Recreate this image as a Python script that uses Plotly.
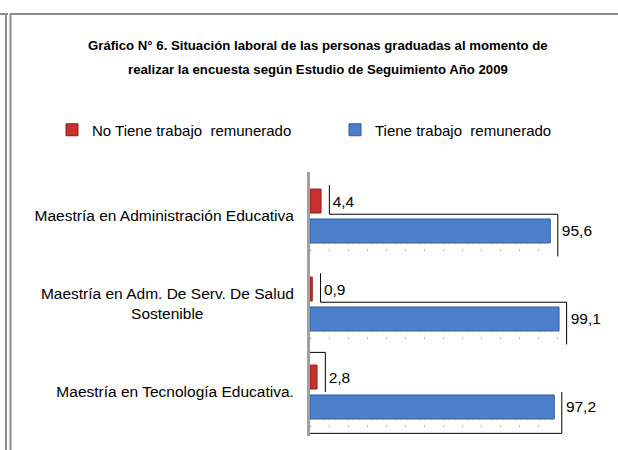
import plotly.graph_objects as go

categorias = [
    "Maestría en Administración Educativa",
    "Maestría en Adm. De Serv. De Salud<br>" + "\u00a0" * 21 + "Sostenible" + "\u00a0" * 21,
    "Maestría en Tecnología Educativa.",
]
no_tiene = [4.4, 0.9, 2.8]
tiene = [95.6, 99.1, 97.2]

fuente = "Liberation Sans, Arial, sans-serif"

# geometria del area de grafico (px)
L, R, T, B = 310, 19, 172, 14
W, H = 618 - L - R, 450 - T - B


def px_x(p):
    return (p - L) / W


def px_y(p):
    return (450 - B - p) / H


fig = go.Figure()
fig.add_bar(
    y=categorias, x=no_tiene, orientation="h",
    name="No Tiene trabajo  remunerado",
    marker=dict(color="#C8302C", line=dict(color="#8E1F1C", width=1)),
    texttemplate="\u00a0\u00a0%{x:.1f}", textposition="outside",
    cliponaxis=False, constraintext="none",
    textfont=dict(size=15.5, color="black"),
)
fig.add_bar(
    y=categorias, x=tiene, orientation="h",
    name="Tiene trabajo  remunerado",
    marker=dict(color="#4A80CC", line=dict(color="#2D5C9C", width=1)),
    texttemplate="\u00a0\u00a0%{x:.1f}", textposition="outside",
    cliponaxis=False, constraintext="none",
    textfont=dict(size=15.5, color="black"),
)

# piso punteado bajo cada barra azul y bordes de las etiquetas
negro = dict(color="black", width=1)
for i, (r, b) in enumerate(zip(no_tiene, tiene)):
    fig.add_shape(type="line", xref="x", yref="y", x0=0, x1=b, y0=i + 0.31, y1=i + 0.31,
                  line=dict(color="#9A9A9A", width=1, dash="dot"))
    fig.add_shape(type="line", xref="x", yref="y", x0=0, x1=b, y0=i + 0.39, y1=i + 0.39,
                  line=dict(color="#7A7A7A", width=1, dash="1px,18px"))
    xl, xr = r + 3.3, b + 3
    if i < 2:
        fig.add_shape(type="line", x0=xl, x1=xl, y0=i - 0.35, y1=i - 0.02, line=negro)
        fig.add_shape(type="line", x0=xl, x1=xr, y0=i - 0.02, y1=i - 0.02, line=negro)
        fig.add_shape(type="line", x0=xr, x1=xr, y0=i - 0.02, y1=i + 0.46, line=negro)
    else:
        fig.add_shape(type="line", x0=xl, x1=xl, y0=i - 0.45, y1=i, line=negro)
        fig.add_shape(type="line", x0=0, x1=xl, y0=i - 0.45, y1=i - 0.45, line=negro)
        fig.add_shape(type="line", x0=xr, x1=xr, y0=i, y1=i + 0.47, line=negro)
        fig.add_shape(type="line", x0=0, x1=xr, y0=i + 0.47, y1=i + 0.47, line=negro)

# marco exterior
marco = dict(color="#8C8C8C", width=2)
fig.add_shape(type="line", xref="paper", yref="paper", x0=px_x(0), x1=px_x(8),
              y0=px_y(14), y1=px_y(14), line=marco)
fig.add_shape(type="line", xref="paper", yref="paper", x0=px_x(10), x1=px_x(618),
              y0=px_y(14), y1=px_y(14), line=marco)
fig.add_shape(type="line", xref="paper", yref="paper", x0=px_x(6), x1=px_x(6),
              y0=px_y(14), y1=px_y(450), line=marco)
fig.add_shape(type="line", xref="paper", yref="paper", x0=px_x(10.5), x1=px_x(10.5),
              y0=px_y(14), y1=px_y(450), line=marco)

# titulo en dos lineas
titulo = ["Gráfico N° 6. Situación laboral de las personas graduadas al momento de",
          "realizar la encuesta según Estudio de Seguimiento Año 2009"]
for linea, yp in zip(titulo, [45, 70]):
    fig.add_annotation(text="<b>" + linea + "</b>", xref="paper", yref="paper",
                       x=px_x(318), y=px_y(yp), xanchor="center", yanchor="middle",
                       showarrow=False, font=dict(family=fuente, size=13.2, color="black"))

fig.update_layout(
    width=618, height=450,
    margin=dict(l=L, r=R, t=T, b=B),
    paper_bgcolor="white", plot_bgcolor="white",
    font=dict(family=fuente, size=15, color="black"),
    separators=",.",
    barmode="group", bargap=0.32, bargroupgap=0.2,
    legend=dict(
        orientation="h", xref="paper", x=px_x(62), xanchor="left",
        yref="paper", y=px_y(130), yanchor="middle",
        font=dict(size=15), itemwidth=30,
        entrywidth=238, entrywidthmode="pixels",
    ),
    showlegend=True,
)
fig.update_xaxes(range=[0, 115], showgrid=False, showticklabels=False,
                 zeroline=False, showline=False)
fig.update_yaxes(autorange="reversed", showgrid=False, showline=True,
                 linecolor="#A0A0A0", linewidth=3, ticks="",
                 ticklabelstandoff=10, tickfont=dict(size=15.5))

fig.write_html("out.html", post_script="document.body.style.margin='0';",
               config={"displayModeBar": False})
